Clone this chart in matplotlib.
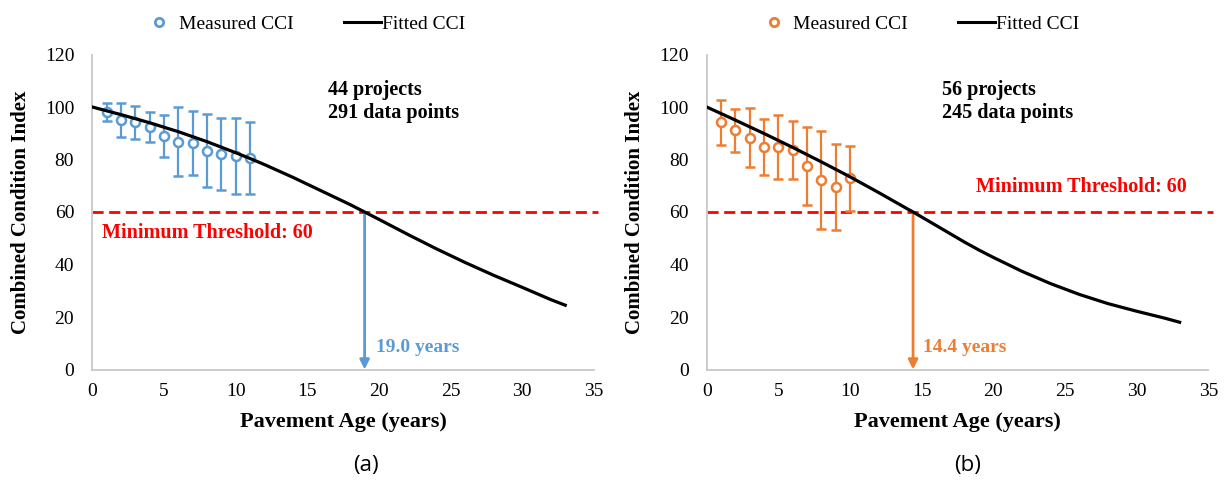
import matplotlib
matplotlib.use("Agg")
import matplotlib.pyplot as plt
from matplotlib.lines import Line2D

# ---------------- data ----------------
ages_a = [1, 2, 3, 4, 5, 6, 7, 8, 9, 10, 11]
cci_a = [98.0, 95.0, 94.2, 92.3, 89.1, 86.8, 86.2, 83.4, 82.1, 81.4, 80.5]
sd_a = [3.5, 6.6, 6.2, 5.7, 8.0, 13.2, 12.1, 13.8, 13.9, 14.5, 13.8]

ages_b = [1, 2, 3, 4, 5, 6, 7, 8, 9, 10]
cci_b = [94.2, 91.2, 88.3, 84.9, 84.9, 83.6, 77.6, 72.2, 69.6, 72.8]
sd_b = [8.6, 8.2, 11.2, 10.7, 12.2, 11.0, 14.9, 18.8, 16.3, 12.3]

fit_age_a = [0, 2, 4, 6, 8, 10, 11, 12, 14, 16, 18, 19, 20, 22, 24, 26, 28, 30, 32, 33]
fit_cci_a = [100, 97.1, 94.0, 90.6, 86.8, 82.6, 80.4, 78.1, 73.2, 68.0, 62.8, 60.0,
             57.2, 51.5, 46.0, 40.8, 35.9, 31.3, 26.6, 24.5]

fit_age_b = [0, 2, 4, 6, 8, 10, 12, 14, 14.4, 16, 18, 19, 20, 22, 24, 26, 28, 30, 32, 33]
fit_cci_b = [100, 95.0, 89.9, 84.6, 79.1, 73.4, 67.4, 61.2, 60.0, 54.9, 48.5, 45.5,
             42.7, 37.4, 32.7, 28.6, 25.1, 22.2, 19.5, 18.0]

threshold = 60
life_a = 19.0
life_b = 14.4
info_a = ["44 projects", "291 data points"]
info_b = ["56 projects", "245 data points"]
panel_labels = ["(a)", "(b)"]
xticks = [0, 5, 10, 15, 20, 25, 30, 35]
yticks = [0, 20, 40, 60, 80, 100, 120]

# ---------------- style ----------------
SERIF = ["Liberation Serif", "DejaVu Serif"]
BLUE = "#5b9bd5"
ORANGE = "#ed7d31"
RED = "#ff0000"
SPINE = "#c8c8c8"

W, H = 1225, 487
fig = plt.figure(figsize=(W / 100, H / 100), dpi=100)
fig.patch.set_facecolor("white")


def panel(rect, ages, cci, sd, fa, fc, life, color, info, label, label_x,
          thr_xy, thr_ha, life_dx):
    ax = fig.add_axes(rect)
    ax.set_xlim(0, 35)
    ax.set_ylim(0, 120)
    ax.set_xticks(xticks)
    ax.set_yticks(yticks)
    for s in ["top", "right"]:
        ax.spines[s].set_visible(False)
    for s in ["left", "bottom"]:
        ax.spines[s].set_color(SPINE)
        ax.spines[s].set_linewidth(1.3)
    ax.tick_params(length=0, labelsize=14)
    ax.tick_params(axis="y", pad=13)
    ax.tick_params(axis="x", pad=10)
    for t in ax.get_xticklabels() + ax.get_yticklabels():
        t.set_family(SERIF)

    # threshold
    ax.plot([0, 35.3], [threshold, threshold], color=RED, lw=2,
            ls=(0, (4, 2)), clip_on=False, zorder=2)
    # fitted
    ax.plot(fa, fc, color="black", lw=2.3, zorder=4)
    # measured
    ax.errorbar(ages, cci, yerr=sd, fmt="o", color=color, ecolor=color,
                elinewidth=1.6, capsize=3.5, capthick=1.3, ms=6.5,
                mfc="white", mec=color, mew=1.8, zorder=3)
    # arrow
    ax.annotate("", xy=(life, 0), xytext=(life, threshold),
                arrowprops=dict(arrowstyle="-|>", color=color, lw=2,
                                mutation_scale=14, shrinkA=0, shrinkB=0),
                zorder=3)
    ax.text(life + life_dx, 8.5, f"{life:.1f} years", color=color,
            fontsize=14, fontweight="bold", family=SERIF, va="center")
    ax.text(thr_xy[0], thr_xy[1], f"Minimum Threshold: {threshold}", color=RED,
            fontsize=14.5, fontweight="bold", family=SERIF, va="center",
            ha=thr_ha)
    ax.text(0.47, 0.85, info[0] + "\n" + info[1], transform=ax.transAxes,
            fontsize=14.5, fontweight="bold", family=SERIF, va="center",
            ha="left", linespacing=1.2)
    ax.set_xlabel("Pavement Age (years)", fontsize=16, fontweight="bold",
                  family=SERIF, labelpad=8)
    ax.set_ylabel("Combined Condition Index", fontsize=15, fontweight="bold",
                  family=SERIF, labelpad=10)

    handles = [
        Line2D([], [], marker="o", ls="none", ms=6, mfc="white", mec=color,
               mew=2),
        Line2D([], [], color="black", lw=2.2),
    ]
    ax.legend(handles, ["Measured CCI", "Fitted CCI"], ncol=2,
              frameon=False, loc="center",
              bbox_to_anchor=(0.42, 1.097), handlelength=1.9,
              handletextpad=0.05, columnspacing=2.6,
              prop={"family": SERIF, "size": 14})
    ax.text(label_x, -0.306, label, transform=ax.transAxes, ha="center",
            va="center", fontsize=16, family=["Open Sans", "DejaVu Sans"])
    return ax


bottom = 1 - 369.5 / H
top = 1 - 54.5 / H
wid = 501.6 / W
panel([92.3 / W, bottom, wid, top - bottom], ages_a, cci_a, sd_a,
      fit_age_a, fit_cci_a, life_a, BLUE, info_a, panel_labels[0], 0.545,
      (0.7, 52.0), "left", 0.8)
panel([706.7 / W, bottom, wid, top - bottom], ages_b, cci_b, sd_b,
      fit_age_b, fit_cci_b, life_b, ORANGE, info_b, panel_labels[1], 0.52,
      (33.5, 69.5), "right", 0.7)

fig.savefig("out.png", dpi=100, facecolor="white")
